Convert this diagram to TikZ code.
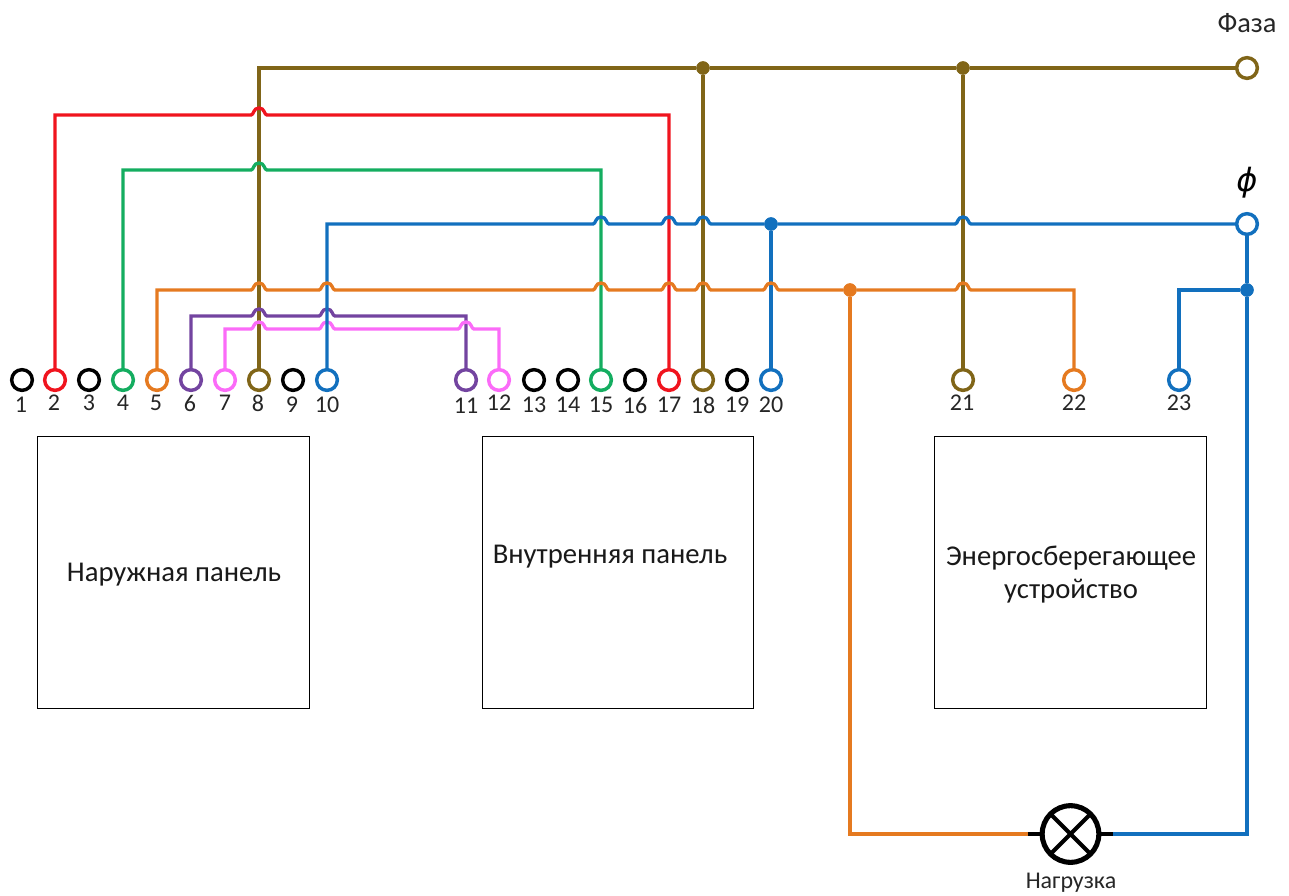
\documentclass[tikz,border=0pt]{standalone}
\usepackage{fontspec}
\setmainfont{Carlito}
\newfontfamily\phifont{DejaVu Sans}
\definecolor{cred}{HTML}{F0141E}
\definecolor{cgreen}{HTML}{14AD60}
\definecolor{corange}{HTML}{E57A20}
\definecolor{cblue}{HTML}{1270BE}
\definecolor{cpurple}{HTML}{7344A0}
\definecolor{cpink}{HTML}{FB6BF8}
\definecolor{cbrown}{HTML}{806518}
\newcommand\hop[2]{-- (#1-8,#2) .. controls (#1-5,#2) and (#1-6,#2-7) .. (#1,#2-7) .. controls (#1+6,#2-7) and (#1+5,#2) .. (#1+8,#2)}
\tikzset{
  x=0.75pt,y=-0.75pt,
  term/.style={circle,draw=#1,fill=white,line width=2.6pt,minimum size=15.5pt,inner sep=0pt,outer sep=0pt},
  wire/.style={draw=#1,line width=2.5pt},
  dot/.style={circle,fill=#1,minimum size=10pt,inner sep=0pt,outer sep=0pt},
  num/.style={font=\fontsize{18pt}{20pt}\selectfont,text=black!85,inner sep=0pt},
  panel/.style={draw=black,line width=0.75pt,fill=white,minimum size=203.5pt,inner sep=0pt,outer sep=0pt},
  ptext/.style={font=\fontsize{21.5pt}{24.75pt}\selectfont,text=black!90,inner sep=0pt,align=center},
}
\begin{document}
\begin{tikzpicture}
\useasboundingbox (0,0) rectangle (1289,896);
% panels
\node[panel] (p1) at (173.5,572.5) {};
\node[panel] (p2) at (618,572.5) {};
\node[panel] (p3) at (1070.5,572.5) {};
\node[ptext] (p1t) at (174,575) {Наружная панель};
\node[ptext] (p2t) at (610,557) {Внутренняя панель};
\node[ptext] (p3t) at (1071,575) {Энергосберегающее\\устройство};
% terminals
\foreach \n/\x/\c in {1/22/black,2/55/cred,3/89/black,4/123/cgreen,5/157/corange,6/191/cpurple,7/225/cpink,8/259/cbrown,9/293/black,10/327/cblue,11/466/cpurple,12/499/cpink,13/534/black,14/568/black,15/601/cgreen,16/635/black,17/669/cred,18/703/cbrown,19/737/black,20/771/cblue,21/963/cbrown,22/1074/corange,23/1179/cblue}
  \node[term=\c] (t\n) at (\x,380) {};
\node[term=cbrown] (phase) at (1247,68) {};
\node[term=cblue] (zero) at (1247,224) {};
% labels
\foreach \n/\x/\y in {1/21/405,2/54/403,3/89/403,4/123/403,5/156/403,6/190/403,7/225/403,8/258/403,9/292/405,10/327/405,11/466/406,12/499/403,13/534/405,14/568/405,15/601/405,16/635/405,17/669/405,18/703/405,19/737/405,20/771/405,21/962/403,22/1074/403,23/1179/403}
  \node[num] (l\n) at (\x,\y) {\n};
\node[font=\fontsize{21.3pt}{23pt}\selectfont,text=black!85,inner sep=0pt] (phl) at (1247,23) {Фаза};
\node[font=\phifont\itshape\fontsize{24pt}{26pt}\selectfont,inner sep=0pt] (zl) at (1247,183) {ϕ};
% junctions
\node[dot=cbrown] (j18) at (703,68) {};
\node[dot=cbrown] (j21) at (963,68) {};
\node[dot=cblue] (j20) at (771,224) {};
\node[dot=corange] (jo) at (850,290) {};
\node[dot=cblue] (jb) at (1247,290) {};
% lamp
\node[circle,draw=black,line width=3.8pt,fill=white,minimum size=42.5pt,inner sep=0pt,outer sep=0pt] (lamp) at (1070.5,834) {};
\node[font=\fontsize{18pt}{20pt}\selectfont,text=black!85,inner sep=0pt] (lampl) at (1071,883) {Нагрузка};
\coordinate (lampW) at (1028,834);
\coordinate (lampE) at (1113,834);
\draw[black,line width=3pt] (lamp.45) -- (lamp.225) (lamp.135) -- (lamp.315);
\draw[black,line width=3pt] (lampW) -- (lamp.west) (lamp.east) -- (lampE);
% vertical wires first
\draw[wire=cbrown] (t8.north) -- (259,68) -- (j18);
\draw[wire=cbrown,line width=3.2pt] (j18) -- (j21) -- (phase.west);
\draw[wire=cbrown] (t18.north) -- (j18);
\draw[wire=cbrown] (t21.north) -- (j21);
\draw[wire=cblue] (t20.north) -- (j20);
% red, green
\draw[wire=cred] (t2.north) -- (55,115) \hop{259}{115} -- (669,115) -- (t17.north);
\draw[wire=cgreen] (t4.north) -- (123,170) \hop{259}{170} -- (601,170) -- (t15.north);
% pink and purple
\draw[wire=cpurple] (t6.north) -- (191,316) \hop{259}{316} \hop{327}{316} -- (466,316) -- (t11.north);
\draw[wire=cpink] (t7.north) -- (225,329) \hop{259}{329} \hop{327}{329} \hop{466}{329} -- (499,329) -- (t12.north);
% blue
\draw[wire=cblue] (t10.north) -- (327,224) \hop{601}{224} \hop{669}{224} \hop{703}{224} -- (j20) \hop{963}{224} -- (zero.west);
\draw[wire=cblue] (zero.south) -- (jb) -- (1247,834) -- (lampE);
\draw[wire=cblue] (t23.north) -- (1179,290) -- (jb);
% orange
\draw[wire=corange] (t5.north) -- (157,290) \hop{259}{290} \hop{327}{290} \hop{601}{290} \hop{669}{290} \hop{703}{290} \hop{771}{290} -- (jo) \hop{963}{290} -- (1074,290) -- (t22.north);
\draw[wire=corange] (jo) -- (850,834) -- (lampW);
% junction dots on top
\node[dot=cbrown] at (j18) {};
\node[dot=cbrown] at (j21) {};
\node[dot=cblue] at (j20) {};
\node[dot=corange] at (jo) {};
\node[dot=cblue] at (jb) {};
\end{tikzpicture}
\end{document}
